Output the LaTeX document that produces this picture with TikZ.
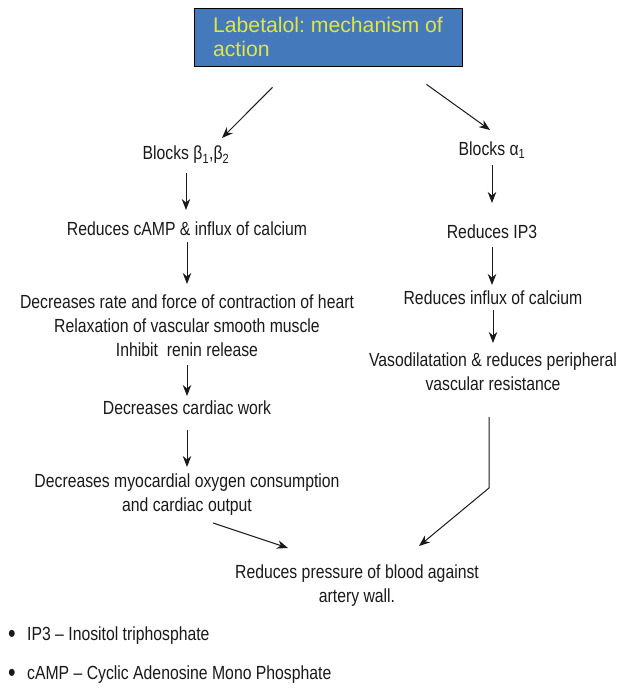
\documentclass[tikz,border=0pt]{standalone}
\usepackage{fontspec}
\setmainfont{Liberation Sans}[FakeStretch=0.83]
\newfontfamily\titlefont{Liberation Sans}
\usetikzlibrary{arrows.meta,positioning,calc}
\definecolor{boxblue}{RGB}{68,122,188}
\definecolor{titleyellow}{RGB}{226,230,62}
\definecolor{inkgray}{RGB}{25,25,25}
\frenchspacing

\newcommand{\bulletmark}{\makebox[19pt][l]{\fontsize{26}{24}\selectfont\raisebox{-2pt}{•}}}

\tikzset{
  fact/.style={align=center, inner sep=2pt, text=inkgray,
    font=\fontsize{19}{24}\selectfont},
  note/.style={anchor=west, inner sep=0pt, text=inkgray,
    font=\fontsize{19}{24}\selectfont},
  arr/.style={-{Stealth[length=11pt,width=8.5pt,inset=3.5pt]},
    line width=1pt, draw=inkgray}
}

\begin{document}
\begin{tikzpicture}[x=1pt,y=-1pt]
    \useasboundingbox (0,0) rectangle (630,688);

    % Title box
    \node[draw=black, line width=0.8pt, fill=boxblue, text=titleyellow,
      font=\titlefont\fontsize{21.2}{23.5}\selectfont, align=left,
      minimum width=268pt, minimum height=58pt]
      (title) at (328,37) {\raisebox{-2pt}{Labetalol: mechanism of}\\\raisebox{-2pt}{action}};

    % Beta branch
    \node[fact] (bb) at (186,155) {Blocks β\textsubscript{1},β\textsubscript{2}};
    \node[fact] (camp) at (187,229) {Reduces cAMP \& influx of calcium};
    \node[fact] (heart) at (187,326) {Decreases rate and force of contraction of heart\\
      Relaxation of vascular smooth muscle\\Inhibit\ \ renin release};
    \node[fact] (work) at (187,408) {Decreases cardiac work};
    \node[fact] (myo) at (187,495) {Decreases myocardial oxygen consumption\\and cardiac output};

    % Alpha branch
    \node[fact] (ba) at (492,150) {Blocks α\textsubscript{1}};
    \node[fact] (ip) at (492,232) {Reduces IP3};
    \node[fact] (ca) at (493,298) {Reduces influx of calcium};
    \node[fact] (vaso) at (493,372) {Vasodilatation \& reduces peripheral\\vascular resistance};

    % Common end
    \node[fact] (press) at (357,586) {Reduces pressure of blood against\\artery wall.};

    % Arrows from the title
    \draw[arr] ($(title.south)+(-55.5,21)$) -- ($(bb)+(36,-17)$);
    \draw[arr] ($(title.south)+(98.5,18)$) -- ($(ba)+(-2,-20)$);

    % Arrows down each column
    \foreach \a/\b/\s/\e in {bb/camp/18/19, camp/heart/13/42, heart/work/39/12,
      work/myo/22/28, ba/ip/15/29, ip/ca/15/13, ca/vaso/12/29} {
      \draw[arr] ($(\a)+(0,\s)$) -- ($(\a |- \b)+(0,-\e)$);
    }

    % Arrows into the common end
    \draw[arr] ($(myo)+(26,28)$) -- ($(press)+(-69,-38)$);
    \coordinate (bend) at ($(vaso)+(-4,116)$);
    \draw[arr] ($(vaso)+(-4,45)$) -- (bend) -- ($(press)+(62,-40)$);

    % Abbreviations
    \node[note] (abbr1) at (8,636) {\bulletmark IP3 – Inositol triphosphate};
    \node[note] (abbr2) at (8,675) {\bulletmark cAMP – Cyclic Adenosine Mono Phosphate};
  \end{tikzpicture}
\end{document}
